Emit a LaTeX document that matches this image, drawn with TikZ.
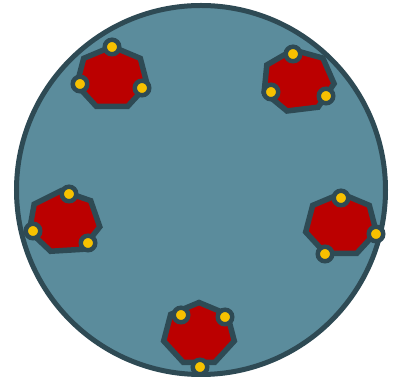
\documentclass[tikz,border=0pt]{standalone}
\usepackage{tikz}
\usetikzlibrary{shapes.geometric}

\definecolor{cellfill}{HTML}{5B8C9C}
\definecolor{darkrim}{HTML}{2E4A54}
\definecolor{hepred}{HTML}{BB0000}
\definecolor{dotyellow}{HTML}{F7C100}

\begin{document}
\begin{tikzpicture}[
  x=1pt, y=1pt,
  cell/.style={circle, draw=darkrim, fill=cellfill, line width=5pt, minimum size=369pt, inner sep=0pt},
  hept/.style={regular polygon, regular polygon sides=7, draw=darkrim, fill=hepred, line width=5.5pt, minimum size=63pt, inner sep=0pt, xscale=1.15, transform shape},
  site/.style={circle, draw=darkrim, fill=dotyellow, line width=4.5pt, minimum size=14.5pt, inner sep=0pt}
]
\useasboundingbox (0,0) rectangle (394,382);

\node[cell] (cell) at (201,192) {};

\node[hept] (h1) at (112,304) {};
\node[hept, shape border rotate=8] (h2) at (298,301) {};
\node[hept, shape border rotate=4] (h3) at (64,160) {};
\node[hept] (h4) at (341,157) {};
\node[hept] (h5) at (199,48) {};

\node[site] (s11) at (112,335) {};
\node[site] (s12) at (80,298) {};
\node[site] (s13) at (142,294) {};

\node[site] (s21) at (293,328) {};
\node[site] (s22) at (271,290) {};
\node[site] (s23) at (326,286) {};

\node[site] (s31) at (69,188) {};
\node[site] (s32) at (33,151) {};
\node[site] (s33) at (88,139) {};

\node[site] (s41) at (341,184) {};
\node[site] (s42) at (376,148) {};
\node[site] (s43) at (325,128) {};

\node[site] (s51) at (181,67) {};
\node[site] (s52) at (225,65) {};
\node[site] (s53) at (200,15) {};
\end{tikzpicture}
\end{document}
